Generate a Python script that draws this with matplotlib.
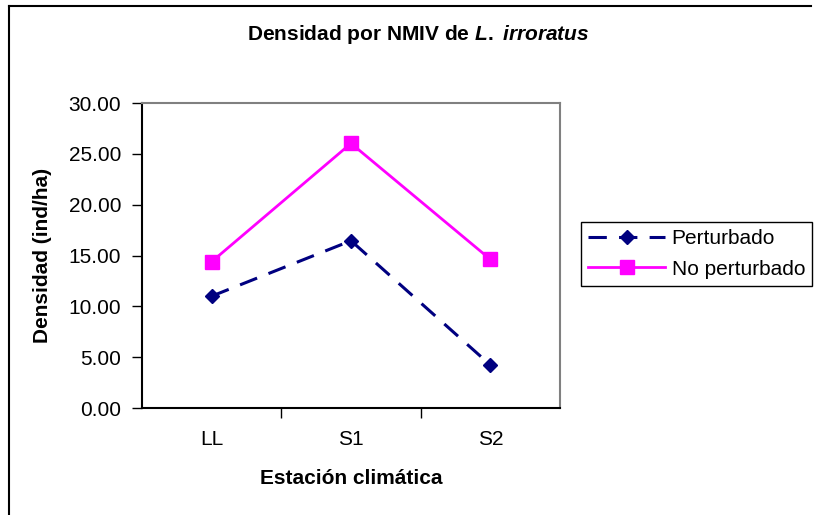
import matplotlib
matplotlib.use("Agg")
import matplotlib.pyplot as plt
from matplotlib.lines import Line2D

# data
estaciones = ["LL", "S1", "S2"]
perturbado = [11.0, 16.45, 4.23]
no_perturbado = [14.39, 26.03, 14.62]
y_ticks = [0, 5, 10, 15, 20, 25, 30]

plt.rcParams['font.family'] = ['Liberation Sans', 'DejaVu Sans']
plt.rcParams['mathtext.fontset'] = 'custom'
plt.rcParams['mathtext.it'] = 'Liberation Sans:bold:italic'
plt.rcParams['mathtext.rm'] = 'Liberation Sans:bold'

W, H = 816, 515
fig = plt.figure(figsize=(W / 100, H / 100), dpi=100)
ax = fig.add_axes([142 / W, 1 - 408 / H, (560 - 142) / W, (408 - 103) / H])

x = list(range(len(estaciones)))
ax.plot(x, perturbado, color="#000080", lw=2.2, dashes=(6, 4),
        marker="D", markersize=7.5, markerfacecolor="#000080",
        markeredgecolor="#000080", label="Perturbado", clip_on=False, zorder=3)
ax.plot(x, no_perturbado, color="#FF00FF", lw=2, marker="s", markersize=10,
        markerfacecolor="#FF00FF", markeredgecolor="#FF00FF",
        label="No perturbado", clip_on=False, zorder=3)

ax.set_xlim(-0.5, len(estaciones) - 0.5)
ax.set_ylim(0, 30)
ax.set_yticks(y_ticks)
ax.set_yticklabels([f"{v:.2f}" for v in y_ticks])
ax.set_xticks(x)
ax.set_xticklabels(estaciones)
ax.set_xticks([i + 0.5 for i in x[:-1]], minor=True)

ax.tick_params(axis="y", direction="out", length=7, width=1, labelsize=15, pad=8)
ax.tick_params(axis="x", which="major", length=0, labelsize=15, pad=16)
ax.tick_params(axis="x", which="minor", direction="out", length=7, width=1)

for side in ["left", "bottom"]:
    ax.spines[side].set_color("black")
    ax.spines[side].set_linewidth(1.5)
for side in ["top", "right"]:
    ax.spines[side].set_color("#808080")
    ax.spines[side].set_linewidth(1.5)

ax.set_ylabel("Densidad (ind/ha)", fontsize=15, fontweight="bold", labelpad=12)
ax.set_xlabel("Estación climática", fontsize=15, fontweight="bold", labelpad=14)

fig.text(418 / W, 1 - 35 / H, r"Densidad por NMIV de $\mathit{L.}$ $\mathit{irroratus}$",
         ha="center", va="center", fontsize=15, fontweight="bold")

leg = ax.legend(loc="upper left", bbox_to_anchor=(581 / W, 1 - 222 / H),
                bbox_transform=fig.transFigure, fontsize=15, frameon=True,
                fancybox=False, framealpha=1, edgecolor="black",
                handlelength=3.7, handletextpad=0.3, labelspacing=0.55,
                borderpad=0.35, borderaxespad=0)
leg.get_frame().set_linewidth(1)

# outer frame (top and left only visible)
fig.add_artist(Line2D([9 / W, 811 / W], [1 - 6 / H, 1 - 6 / H], color="black", lw=1.5))
fig.add_artist(Line2D([9 / W, 9 / W], [1 - 6 / H, 0], color="black", lw=1.5))

fig.savefig("out.png", dpi=100)
